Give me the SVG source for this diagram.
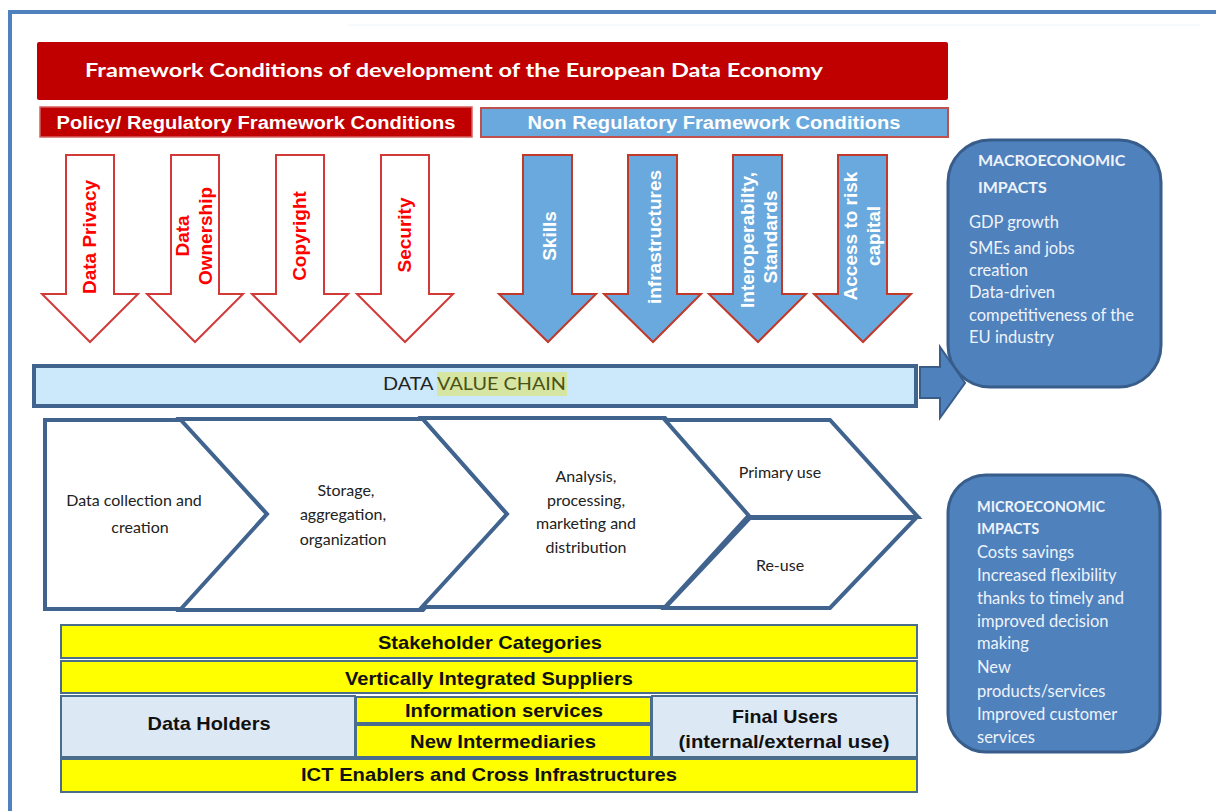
<svg xmlns="http://www.w3.org/2000/svg" width="1216" height="811" viewBox="0 0 1216 811">
<style>
.hdr{font-family:"Liberation Sans",Arial,sans-serif;font-weight:bold;fill:#ffffff}
.ra{fill:#ffffff;stroke:#d23a3a;stroke-width:2}
.ba{fill:#6aa9dd;stroke:#c0392b;stroke-width:2}
.rt{font-family:"Liberation Sans",Arial,sans-serif;font-weight:bold;font-size:19px;fill:#ff0000;text-anchor:middle}
.bt{font-family:"Liberation Sans",Arial,sans-serif;font-weight:bold;font-size:19px;fill:#ffffff;text-anchor:middle}
.chev{fill:#ffffff;stroke:#41648f;stroke-width:4;stroke-linejoin:miter}
.ct{font-family:Lato,"Open Sans",sans-serif;font-size:16px;fill:#222222;text-anchor:middle}
.imp{fill:#4f81bd;stroke:#385d8a;stroke-width:3}
.it{font-family:Lato,"Open Sans",sans-serif;font-size:16.5px;fill:#eef3fa}
.ih{font-family:Lato,"Open Sans",sans-serif;font-weight:bold;fill:#eef3fa}
.yl{fill:#ffff00;stroke:#4a6d8c;stroke-width:2}
.lb{fill:#dce9f5;stroke:#4a6d8c;stroke-width:2}
.tt{font-family:"Liberation Sans",Arial,sans-serif;font-weight:bold;font-size:19px;fill:#111111;text-anchor:middle}
</style>
<rect x="0" y="0" width="1216" height="811" fill="#ffffff"/>
<rect x="10" y="12" width="1230" height="820" fill="none" stroke="#4f81bd" stroke-width="4"/>
<line x1="348" y1="25" x2="1200" y2="25" stroke="#f0f5fb" stroke-width="1"/>

<g id="title">
<rect x="37" y="42" width="911" height="58" rx="2" fill="#c00000"/>
<text class="hdr" x="454" y="77" font-size="19" text-anchor="middle" textLength="738" lengthAdjust="spacingAndGlyphs" style="font-family:Lato,'Open Sans',sans-serif">Framework Conditions of development of the European Data Economy</text>
</g>
<g id="policy">
<rect x="40" y="107" width="432" height="30" fill="#c00000" stroke="#d66060" stroke-width="1.5"/>
<text class="hdr" x="256" y="129" font-size="18" text-anchor="middle" textLength="399" lengthAdjust="spacingAndGlyphs">Policy/ Regulatory Framework Conditions</text>
</g>
<g id="nonreg">
<rect x="481" y="108" width="467" height="29" fill="#6aa9dd" stroke="#c0504d" stroke-width="2"/>
<text class="hdr" x="714" y="129" font-size="18" text-anchor="middle" textLength="373" lengthAdjust="spacingAndGlyphs">Non Regulatory Framework Conditions</text>
</g>

<g id="arrow-privacy">
<path class="ra" d="M66 155 H114 V294 H138 L90 342 L42 294 H66 Z"/>
<text class="rt" transform="translate(96 237) rotate(-90)">Data Privacy</text>
</g>
<g id="arrow-ownership">
<path class="ra" d="M171 155 H219 V294 H243 L195 342 L147 294 H171 Z"/>
<text class="rt" transform="translate(189 236) rotate(-90)">Data</text>
<text class="rt" transform="translate(212 236) rotate(-90)">Ownership</text>
</g>
<g id="arrow-copyright">
<path class="ra" d="M276 155 H324 V294 H348 L300 342 L252 294 H276 Z"/>
<text class="rt" transform="translate(306 236) rotate(-90)">Copyright</text>
</g>
<g id="arrow-security">
<path class="ra" d="M381 155 H429 V294 H453 L405 342 L357 294 H381 Z"/>
<text class="rt" transform="translate(411 235) rotate(-90)">Security</text>
</g>
<g id="arrow-skills">
<path class="ba" d="M523 155 H572 V294 H596 L548 342 L499 294 H523 Z"/>
<text class="bt" transform="translate(556 236) rotate(-90)">Skills</text>
</g>
<g id="arrow-infra">
<path class="ba" d="M628 155 H677 V294 H701 L653 342 L604 294 H628 Z"/>
<text class="bt" transform="translate(661 237) rotate(-90)">infrastructures</text>
</g>
<g id="arrow-interop">
<path class="ba" d="M733 155 H782 V294 H806 L758 342 L709 294 H733 Z"/>
<text class="bt" transform="translate(754 240) rotate(-90)">Interoperabilty,</text>
<text class="bt" transform="translate(777 237) rotate(-90)">Standards</text>
</g>
<g id="arrow-capital">
<path class="ba" d="M838 155 H887 V294 H911 L863 342 L814 294 H838 Z"/>
<text class="bt" transform="translate(857 236) rotate(-90)">Access to risk</text>
<text class="bt" transform="translate(880 236) rotate(-90)">capital</text>
</g>

<g id="macro">
<rect class="imp" x="948" y="140" width="213" height="247" rx="42"/>
<text class="ih" x="978" y="166" font-size="16">MACROECONOMIC</text>
<text class="ih" x="978" y="193" font-size="16">IMPACTS</text>
<text class="it" x="969" y="228">GDP growth</text>
<text class="it" x="969" y="254">SMEs and jobs</text>
<text class="it" x="969" y="276">creation</text>
<text class="it" x="969" y="298">Data-driven</text>
<text class="it" x="969" y="321">competitiveness of the</text>
<text class="it" x="969" y="343">EU industry</text>
</g>

<g id="value-chain-bar">
<rect x="34" y="366" width="882" height="40" fill="#cce9fb" stroke="#41648f" stroke-width="4"/>
<rect x="437" y="372" width="130" height="24" fill="#d6e6a2"/>
<text x="383" y="390" font-family="Lato,'Open Sans',sans-serif" font-size="17.5" fill="#222222" textLength="183" lengthAdjust="spacingAndGlyphs">DATA <tspan fill="#4a5218">VALUE CHAIN</tspan></text>
</g>

<g id="connectors">
<path d="M920 367 H940 V347 L965 383 L940 418 V398 H920 Z" fill="#4f81bd" stroke="#385d8a" stroke-width="2"/>
</g>

<g id="micro">
<rect class="imp" x="948" y="475" width="212" height="277" rx="38"/>
<text class="ih" x="977" y="512" font-size="14.5">MICROECONOMIC</text>
<text class="ih" x="977" y="534" font-size="14.5">IMPACTS</text>
<text class="it" x="977" y="558" font-size="14.5">Costs savings</text>
<text class="it" x="977" y="581" font-size="14.5">Increased flexibility</text>
<text class="it" x="977" y="604" font-size="14.5">thanks to timely and</text>
<text class="it" x="977" y="627" font-size="14.5">improved decision</text>
<text class="it" x="977" y="649" font-size="14.5">making</text>
<text class="it" x="977" y="673" font-size="14.5">New</text>
<text class="it" x="977" y="697" font-size="14.5">products/services</text>
<text class="it" x="977" y="720" font-size="14.5">Improved customer</text>
<text class="it" x="977" y="743" font-size="14.5">services</text>
</g>

<g id="step-collection">
<path class="chev" d="M45 420 H183 L267 514 L183 609 H45 Z"/>
<text class="ct" x="134" y="506">Data collection and</text>
<text class="ct" x="140" y="533">creation</text>
</g>
<g id="step-storage">
<path class="chev" d="M180 419 H423 L507 514 L423 610 H180 L267 514 Z"/>
<text class="ct" x="346" y="496">Storage,</text>
<text class="ct" x="343" y="520">aggregation,</text>
<text class="ct" x="343" y="545">organization</text>
</g>
<g id="step-analysis">
<path class="chev" d="M422 418 H665 L750 514 L665 607 H422 L507 514 Z"/>
<text class="ct" x="586" y="482">Analysis,</text>
<text class="ct" x="586" y="506">processing,</text>
<text class="ct" x="586" y="529">marketing and</text>
<text class="ct" x="586" y="553">distribution</text>
</g>
<g id="step-primary">
<path class="chev" d="M665 420 H830 L918 517 H750 Z"/>
<text class="ct" x="780" y="478">Primary use</text>
</g>
<g id="step-reuse">
<path class="chev" d="M750 518 H916 L830 608 H665 Z"/>
<text class="ct" x="780" y="571">Re-use</text>
</g>

<g id="stakeholder-categories">
<rect class="yl" x="61" y="625" width="856" height="33"/>
<text class="tt" x="490" y="649" textLength="224" lengthAdjust="spacingAndGlyphs">Stakeholder Categories</text>
</g>
<g id="vertically-integrated">
<rect class="yl" x="61" y="661" width="856" height="32"/>
<text class="tt" x="489" y="685" textLength="288" lengthAdjust="spacingAndGlyphs">Vertically Integrated Suppliers</text>
</g>
<g id="data-holders">
<rect class="lb" x="61" y="696" width="294" height="61"/>
<text class="tt" x="209" y="730" textLength="123" lengthAdjust="spacingAndGlyphs">Data Holders</text>
</g>
<g id="information-services">
<rect class="yl" x="356" y="697" width="295" height="26"/>
<text class="tt" x="504" y="717" textLength="198" lengthAdjust="spacingAndGlyphs">Information services</text>
</g>
<g id="new-intermediaries">
<rect class="yl" x="356" y="725" width="295" height="32"/>
<text class="tt" x="503" y="748" textLength="186" lengthAdjust="spacingAndGlyphs">New Intermediaries</text>
</g>
<g id="final-users">
<rect class="lb" x="652" y="696" width="265" height="61"/>
<text class="tt" x="785" y="723" textLength="106" lengthAdjust="spacingAndGlyphs">Final Users</text>
<text class="tt" x="784" y="748" textLength="211" lengthAdjust="spacingAndGlyphs">(internal/external use)</text>
</g>
<g id="ict-enablers">
<rect class="yl" x="61" y="759" width="856" height="33"/>
<text class="tt" x="489" y="781" textLength="376" lengthAdjust="spacingAndGlyphs">ICT Enablers and Cross Infrastructures</text>
</g>
</svg>
